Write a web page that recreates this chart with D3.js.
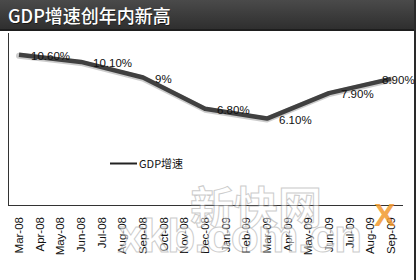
<!DOCTYPE html>
<html>
<head>
<meta charset="utf-8">
<script src="https://cdn.jsdelivr.net/npm/d3@7"></script>
<style>
  html, body { margin: 0; padding: 0; background: #fff; }
  svg { display: block; }
</style>
</head>
<body>
<div id="chart"></div>
<script>
var months = ["Mar-08","Apr-08","May-08","Jun-08","Jul-08","Aug-08","Sep-08","Oct-08","Nov-08","Dec-08",
              "Jan-09","Feb-09","Mar-09","Apr-09","May-09","Jun-09","Jul-09","Aug-09","Sep-09"];
var gdpMonths = ["Mar-08","Jun-08","Sep-08","Dec-08","Mar-09","Jun-09","Sep-09"];
var gdpValues = [10.6, 10.1, 9, 6.8, 6.1, 7.9, 8.9];
var gdpLabels = ["10.60%","10.10%","9%","6.80%","6.10%","7.90%","8.90%"];

var W = 419, H = 280;
var svg = d3.select("#chart").append("svg").attr("width", W).attr("height", H);

// title bar
var defs = svg.append("defs");
var grad = defs.append("linearGradient").attr("id", "tb").attr("x1", 0).attr("y1", 0).attr("x2", 0).attr("y2", 1);
grad.append("stop").attr("offset", "0%").attr("stop-color", "#4a4a4a");
grad.append("stop").attr("offset", "100%").attr("stop-color", "#2e2e2e");
svg.append("rect").attr("x", 0).attr("y", 0).attr("width", 416).attr("height", 30).attr("fill", "url(#tb)");
svg.append("rect").attr("x", 0).attr("y", 29).attr("width", 416).attr("height", 2).attr("fill", "#1e1e1e");
svg.append("text").attr("x", 9).attr("y", 24)
  .attr("font-family", "Noto Sans CJK SC, sans-serif").attr("font-size", 18)
  .attr("fill", "#111").attr("opacity", 0.8).text("GDP增速创年内新高");
svg.append("text").attr("x", 8).attr("y", 23)
  .attr("font-family", "Noto Sans CJK SC, sans-serif").attr("font-size", 18).attr("font-weight", 500)
  .attr("fill", "#fff").text("GDP增速创年内新高");

// right border
svg.append("rect").attr("x", 414).attr("y", 0).attr("width", 2).attr("height", H).attr("fill", "#2a2a2a");

var x = d3.scalePoint().domain(months).range([19, 391]);
var y = d3.scaleLinear().domain([0, 12]).range([205, 35]);

// axes lines
svg.append("line").attr("x1", 8.5).attr("x2", 8.5).attr("y1", 33).attr("y2", 205.5)
  .attr("stroke", "#333").attr("stroke-width", 1);
svg.append("line").attr("x1", 8).attr("x2", 403).attr("y1", 205.5).attr("y2", 205.5)
  .attr("stroke", "#333").attr("stroke-width", 1);

// x labels
svg.append("g").selectAll("text").data(months).enter().append("text")
  .attr("transform", function(d) { return "translate(" + (x(d) + 4) + ",217) rotate(-90)"; })
  .attr("text-anchor", "end")
  .attr("font-family", "Liberation Sans, Arial, sans-serif").attr("font-size", 11.5)
  .attr("fill", "#111").text(function(d) { return d; });

var pts = gdpMonths.map(function(m, i) { return { m: m, v: gdpValues[i], t: gdpLabels[i] }; });

var line = d3.line().x(function(d) { return x(d.m); }).y(function(d) { return y(d.v); });

svg.append("path").datum(pts).attr("d", line)
  .attr("fill", "none").attr("stroke", "#9a9a9a").attr("stroke-width", 6)
  .attr("stroke-linejoin", "round").attr("stroke-linecap", "round").attr("opacity", 0.5)
  .attr("transform", "translate(0,1)");
svg.append("path").datum(pts).attr("d", line)
  .attr("fill", "none").attr("stroke", "#404040").attr("stroke-width", 4.5)
  .attr("stroke-linejoin", "round").attr("stroke-linecap", "butt");

// data labels
svg.append("g").selectAll("text").data(pts).enter().append("text")
  .attr("x", function(d, i) { return i === pts.length - 1 ? x(d.m) - 9 : x(d.m) + 12; })
  .attr("y", function(d) { return y(d.v) + 5; })
  .attr("font-family", "Liberation Sans, Arial, sans-serif").attr("font-size", 11.5)
  .attr("fill", "#111").text(function(d) { return d.t; });

// legend
svg.append("line").attr("x1", 110).attr("x2", 137).attr("y1", 163.5).attr("y2", 163.5)
  .attr("stroke", "#222").attr("stroke-width", 2);
svg.append("text").attr("x", 139).attr("y", 167.5)
  .attr("font-family", "Noto Sans CJK SC, sans-serif").attr("font-size", 11)
  .attr("fill", "#111").text("GDP增速");

// watermark
var wm = svg.append("g").attr("opacity", 0.5);
wm.append("text").attr("x", 190).attr("y", 224)
  .attr("font-family", "Noto Sans CJK SC, sans-serif").attr("font-size", 44).attr("font-weight", "bold")
  .attr("fill", "#fff").attr("stroke", "#999").attr("stroke-width", 1).text("新快网");
wm.append("text").attr("x", 118).attr("y", 252)
  .attr("font-family", "Liberation Sans, Arial, sans-serif").attr("font-size", 46).attr("font-weight", "bold")
  .attr("fill", "#fff").attr("stroke", "#999").attr("stroke-width", 1).attr("letter-spacing", -1)
  .text("xkb.com.cn");
svg.append("text").attr("x", 374).attr("y", 226)
  .attr("font-family", "Liberation Sans, Arial, sans-serif").attr("font-size", 32).attr("font-weight", "bold")
  .attr("fill", "#f29a2e").attr("opacity", 0.85).text("X");
</script>
</body>
</html>
